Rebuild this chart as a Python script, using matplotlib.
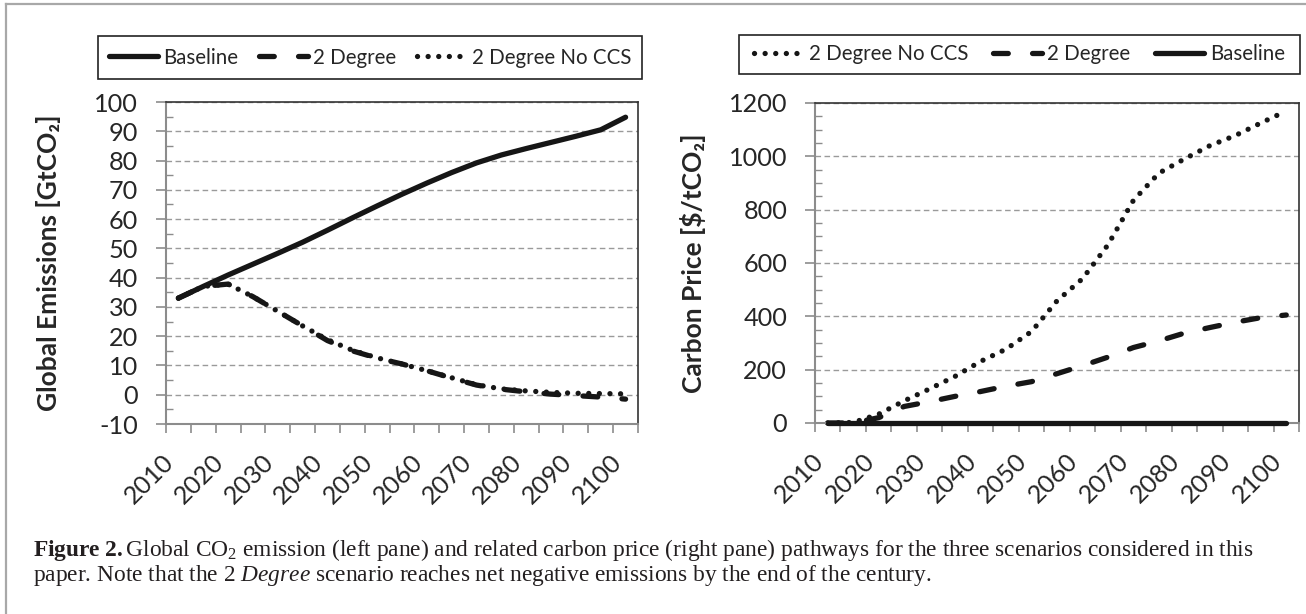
import matplotlib
matplotlib.use("Agg")
import matplotlib.pyplot as plt
from matplotlib.lines import Line2D
from matplotlib.patches import Rectangle
from matplotlib.ticker import FixedLocator, NullFormatter, MultipleLocator
import matplotlib.transforms as mtransforms

# data: 5-year steps
years = list(range(2010, 2101, 5))
label_years = list(range(2010, 2101, 10))

emis_baseline = [33.0, 37.0, 40.9, 44.6, 48.3, 52.1, 56.2, 60.4, 64.5, 68.5,
                 72.3, 75.9, 79.2, 81.9, 84.1, 86.2, 88.3, 90.5, 94.8]
emis_2deg = [33.0, 37.0, 37.8, 33.5, 28.5, 23.5, 18.5, 15.0, 12.5, 10.5,
             8.2, 5.7, 3.3, 1.9, 1.0, 0.2, -0.3, -0.8, -1.5]
emis_2deg_noccs = [33.0, 37.0, 37.8, 33.5, 28.5, 23.5, 18.8, 15.2, 12.6, 10.5,
                   8.2, 5.8, 3.4, 2.0, 1.3, 0.8, 0.5, 0.4, 0.3]

price_baseline = [0] * 19
price_2deg = [0, 0, 20, 62, 80, 100, 118, 138, 155, 185,
              215, 247, 283, 308, 337, 358, 378, 395, 405]
price_2deg_noccs = [0, 2, 33, 83, 128, 175, 231, 277, 343, 458,
                    541, 668, 835, 937, 990, 1040, 1078, 1125, 1170]

plt.rcParams['font.family'] = ['Lato', 'DejaVu Sans']
plt.rcParams['axes.unicode_minus'] = False
plt.rcParams['mathtext.fontset'] = 'custom'
plt.rcParams['mathtext.rm'] = 'Liberation Serif'
plt.rcParams['mathtext.it'] = 'Liberation Serif:italic'
plt.rcParams['mathtext.bf'] = 'Liberation Serif:bold'

INK = '#161616'
GRAY = '#8c8c8c'
LW = 3.8
solid = dict(color=INK, lw=LW, solid_capstyle='round')
dashed = dict(color=INK, lw=LW, linestyle=(0, (2.8, 4.6)), dash_capstyle='round')
dotted = dict(color=INK, lw=LW, linestyle=(0, (0.01, 2.0)), dash_capstyle='round')

W, H = 1306, 614
fig = plt.figure(figsize=(W / 100, H / 100), dpi=100)

ax1 = fig.add_axes([166 / W, 1 - 424 / H, 472 / W, 322 / H])
ax2 = fig.add_axes([815 / W, 1 - 423 / H, 484 / W, 320 / H])

ax1.plot(years, emis_baseline, clip_on=False, **solid)
ax1.plot(years, emis_2deg, clip_on=False, **dashed)
ax1.plot(years, emis_2deg_noccs, clip_on=False, **dotted)

ax2.plot(years, price_2deg_noccs, clip_on=False, **dotted)
ax2.plot(years, price_2deg, clip_on=False, **dashed)
ax2.plot(years, price_baseline, clip_on=False, zorder=3, **solid)

bounds = [2007.5 + 5 * i for i in range(20)]
shift = mtransforms.ScaledTranslation(4 / 100, 0, fig.dpi_scale_trans)

for ax in (ax1, ax2):
    ax.set_xlim(2007.5, 2102.5)
    ax.xaxis.set_major_locator(FixedLocator(bounds))
    ax.xaxis.set_major_formatter(NullFormatter())
    ax.set_xticks(label_years, minor=True)
    ax.set_xticklabels([str(y) for y in label_years], minor=True,
                       rotation=45, ha='right')
    for lab in ax.get_xticklabels(minor=True):
        lab.set_transform(lab.get_transform() + shift)
    ax.tick_params(axis='x', which='major', length=6.5, width=1.2, color=GRAY,
                   direction='out')
    ax.tick_params(axis='x', which='minor', length=0, pad=19, labelsize=18.2,
                   labelcolor='#262626')
    ax.tick_params(axis='y', which='major', length=7, width=1.2, color=GRAY,
                   direction='out', pad=13, labelsize=18.2, labelcolor='#262626')
    ax.tick_params(axis='y', which='minor', length=5, width=1.0, color=GRAY,
                   direction='in')
    ax.yaxis.grid(True, which='major', color='#9a9a9a', lw=1.0,
                  linestyle=(0, (4, 2.5)))
    ax.set_axisbelow(True)
    for side in ('left', 'bottom'):
        ax.spines[side].set_color(GRAY)
        ax.spines[side].set_linewidth(1.5)
    for side in ('top', 'right'):
        ax.spines[side].set_color('#333333')
        ax.spines[side].set_linewidth(1.2)

ax1.set_ylim(-10, 100)
ax1.yaxis.set_major_locator(MultipleLocator(10))
ax1.yaxis.set_minor_locator(MultipleLocator(5))
ax2.set_ylim(0, 1200)
ax2.yaxis.set_major_locator(MultipleLocator(200))
ax2.yaxis.set_minor_locator(MultipleLocator(50))

ax1.set_ylabel('Global Emissions [GtCO\u2082]', fontsize=19, fontweight='bold',
               color='#262626')
ax1.yaxis.set_label_coords(-0.2225, 0.5)
ax2.set_ylabel('Carbon Price [\\$/tCO\u2082]', fontsize=19, fontweight='bold',
               color='#262626')
ax2.yaxis.set_label_coords(-0.225, 0.5)

# legends with separate square frames
def legend_box(labels, styles, x0, x1, y0, y1, colsp):
    handles = [Line2D([], [], **s) for s in styles]
    fig.legend(handles, labels, loc='center',
               bbox_to_anchor=((x0 + x1) / 2 / W, 1 - (y0 + y1) / 2 / H),
               ncol=3, frameon=False, fontsize=14.8, handlelength=2.4,
               handletextpad=0.25, columnspacing=colsp, labelcolor='#262626')
    fig.add_artist(Rectangle((x0 / W, 1 - y1 / H), (x1 - x0) / W, (y1 - y0) / H,
                             transform=fig.transFigure, fill=False,
                             edgecolor='#222222', lw=1.2))

legend_box(['Baseline', '2 Degree', '2 Degree No CCS'], [solid, dashed, dotted],
           98, 642, 36, 79, 1.0)
legend_box(['2 Degree No CCS', '2 Degree', 'Baseline'], [dotted, dashed, solid],
           739, 1300, 35, 74, 1.2)

# outer frame (top and left edges visible)
fig.add_artist(Line2D([6 / W, 1], [1 - 4 / H, 1 - 4 / H], transform=fig.transFigure,
                      color='#a8a8a8', lw=1.6))
fig.add_artist(Line2D([6 / W, 6 / W], [0, 1 - 4 / H], transform=fig.transFigure,
                      color='#a8a8a8', lw=1.6))

cap1 = (r"$\mathbf{Figure\ 2.}$Global CO$_2$ emission (left pane) and related carbon "
        r"price (right pane) pathways for the three scenarios considered in this")
cap2 = (r"paper. Note that the 2 $\mathit{Degree}$ scenario reaches net negative "
        r"emissions by the end of the century.")
fig.text(33 / W, 1 - 550 / H, cap1, family='Liberation Serif', fontsize=16.8,
         va='center', color='#231f20')
fig.text(33 / W, 1 - 575 / H, cap2, family='Liberation Serif', fontsize=16.8,
         va='center', color='#231f20')

fig.savefig('out.png', dpi=100)
